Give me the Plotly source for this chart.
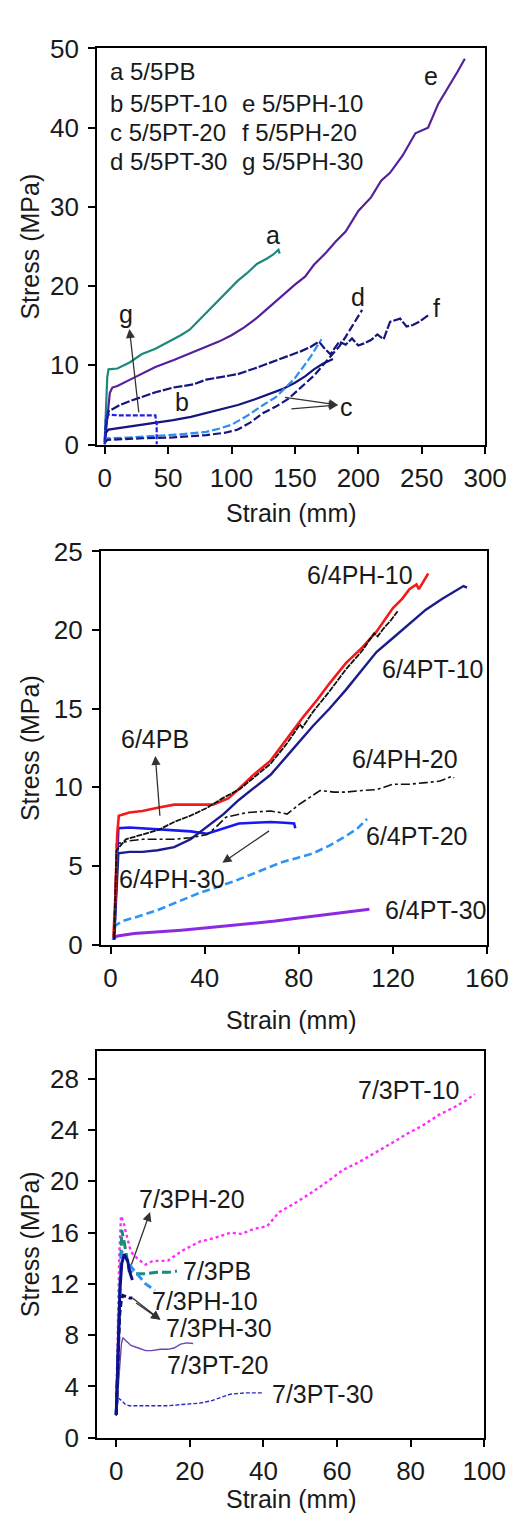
import plotly.graph_objects as go

W, H = 525, 1535
FONT = "Liberation Sans, Arial, sans-serif"
INK = "#1a1a1a"

# ---------------- panel 1 : 5/5 blends ----------------
a_x = [0, 1, 2, 3, 10, 20, 29, 40, 50, 60, 67, 75, 85, 95, 105, 112, 120, 128, 133, 137, 138]
a_y = [0.5, 5, 8.5, 9.5, 9.6, 10.4, 11.4, 12.1, 12.9, 13.8, 14.5, 15.8, 17.5, 19.0, 20.7, 21.6, 22.8, 23.5, 24.0, 24.6, 24.1]

e_x = [0, 2, 4, 6, 10, 20, 30, 40, 55, 67, 80, 90, 100, 110, 120, 132, 140, 150, 158, 165, 175, 182, 190, 200, 210, 218, 225, 235, 245, 255, 263, 270, 278, 284]
e_y = [0, 3, 6.5, 7.2, 7.4, 8.2, 9.0, 9.8, 10.7, 11.5, 12.3, 13.0, 13.8, 14.8, 16.0, 17.7, 18.8, 20.2, 21.2, 22.7, 24.3, 25.6, 26.9, 29.5, 31.2, 33.3, 34.3, 36.5, 39.3, 40.0, 43.0, 44.8, 47.0, 48.7]

b_x = [0, 1, 3, 20, 40, 54, 68, 80, 92, 105, 118, 130, 140, 150, 158, 165, 172, 180]
b_y = [0.3, 1.5, 1.9, 2.3, 2.7, 3.1, 3.5, 4.0, 4.5, 5.0, 5.7, 6.4, 7.0, 7.8, 8.6, 9.5, 10.2, 10.8]

c_x = [0, 2, 20, 40, 60, 80, 90, 100, 112, 125, 135, 142, 150, 157, 162, 167, 171]
c_y = [0.3, 0.8, 0.9, 1.1, 1.3, 1.6, 2.0, 2.5, 3.6, 5.0, 6.0, 7.1, 8.4, 9.9, 11.0, 12.3, 13.3]

d_x = [0, 2, 30, 54, 80, 95, 105, 115, 125, 135, 145, 155, 165, 172, 180, 185, 190, 197, 203]
d_y = [0.2, 0.6, 0.8, 0.9, 1.2, 1.5, 1.9, 2.8, 4.0, 4.8, 5.8, 7.2, 8.7, 10.0, 11.5, 12.4, 13.6, 15.5, 17.0]

f_x = [0, 1, 3, 12, 20, 29, 40, 54, 70, 80, 92, 105, 118, 130, 142, 155, 162, 169, 173, 178, 185, 190, 195, 200, 205, 210, 215, 220, 225, 233, 238, 243, 248, 255]
f_y = [0.5, 2.5, 4.2, 5.0, 5.5, 6.0, 6.6, 7.2, 7.6, 8.2, 8.5, 8.9, 9.6, 10.3, 11.0, 11.8, 12.3, 13.0, 12.2, 11.4, 13.0, 12.6, 13.4, 12.5, 12.8, 13.2, 13.9, 13.3, 15.5, 15.9, 14.9, 15.1, 15.5, 16.3]

g_x = [0, 1, 2, 10, 20, 30, 40, 40.5, 41, 41]
g_y = [0, 3.5, 3.8, 3.7, 3.7, 3.7, 3.7, 2.9, 2.8, 0]

p1_legend = ["a 5/5PB", "b 5/5PT-10", "c 5/5PT-20", "d 5/5PT-30",
             "e 5/5PH-10", "f 5/5PH-20", "g 5/5PH-30"]

# ---------------- panel 2 : 6/4 blends ----------------
ph10_x = [1.2, 2, 2.8, 3.5, 8, 13.5, 20, 27, 35, 43.5, 50, 54.5, 60, 68, 75, 82, 88, 93, 100, 107, 113, 120, 124, 127, 130, 131, 133, 135]
ph10_y = [0.5, 3.0, 7.0, 8.2, 8.4, 8.5, 8.7, 8.9, 8.9, 8.9, 9.3, 9.9, 10.7, 11.7, 13.1, 14.5, 15.6, 16.6, 17.9, 18.9, 19.9, 21.4, 22.0, 22.6, 22.9, 22.6, 23.1, 23.6]

pb64_x = [1.5, 2.5, 6.5, 13, 20.5, 27, 34, 41, 47.5, 55, 61.5, 68, 75, 80.5, 81.5, 86, 93, 100, 107, 112, 113.5, 116, 119, 122]
pb64_y = [0.5, 6.0, 6.7, 7.0, 7.3, 7.8, 8.2, 8.7, 9.3, 9.9, 10.7, 11.5, 12.8, 14.0, 13.8, 14.8, 16.1, 17.5, 18.7, 19.8, 19.6, 20.1, 20.6, 21.2]

pt10_x = [1.5, 2.5, 3.3, 8, 13.5, 20, 27, 34, 41, 48, 54.5, 61, 68, 75, 82, 86, 93, 100, 107, 113, 120, 127, 134, 141, 147, 150, 151.5]
pt10_y = [0.3, 4.0, 5.8, 5.9, 5.9, 6.0, 6.2, 6.7, 7.5, 8.3, 9.2, 10.0, 10.8, 12.0, 13.2, 13.9, 15.0, 16.2, 17.5, 18.6, 19.5, 20.4, 21.3, 22.0, 22.5, 22.8, 22.7]

ph20_x = [1.5, 2.5, 8, 13.5, 20, 27, 34, 41, 45, 49, 58, 68, 72, 75, 80, 89, 95, 100, 107, 113, 120, 127, 134, 140, 145, 146]
ph20_y = [0.4, 6.4, 6.6, 6.7, 6.7, 6.7, 6.8, 7.0, 7.5, 8.1, 8.4, 8.5, 8.4, 8.3, 8.9, 9.8, 9.7, 9.7, 9.8, 9.85, 10.2, 10.2, 10.3, 10.4, 10.7, 10.6]

ph30_x = [1.5, 2.5, 3.3, 8, 13.5, 20, 27, 34, 41, 48, 54.5, 61, 68, 74, 78, 78.5]
ph30_y = [0.3, 5.0, 7.4, 7.45, 7.4, 7.35, 7.3, 7.2, 7.05, 7.4, 7.7, 7.75, 7.8, 7.75, 7.7, 7.4]

pt20_x = [1, 2, 5, 12, 20, 30, 38, 46, 52, 58.7, 65, 72, 79, 86, 93, 100, 105, 109]
pt20_y = [0.3, 1.2, 1.5, 1.8, 2.2, 2.8, 3.3, 3.7, 4.0, 4.4, 4.8, 5.2, 5.5, 5.8, 6.3, 6.9, 7.4, 8.0]

pt30_x = [1, 3, 10, 20, 30, 40, 50, 60, 70, 80, 88, 95, 100, 105, 110]
pt30_y = [0.4, 0.55, 0.7, 0.8, 0.92, 1.05, 1.2, 1.35, 1.5, 1.7, 1.85, 2.0, 2.1, 2.2, 2.25]

# ---------------- panel 3 : 7/3 blends ----------------
pt10_73_x = [0, 0.3, 0.8, 1.3, 2.0, 2.8, 4, 6, 8, 10, 14, 18, 22.7, 27, 31, 34, 37.5, 41, 44.3, 48, 53, 57, 61.7, 66, 70.3, 75, 79, 83, 87.8, 92, 95, 97.4]
pt10_73_y = [2.0, 8.0, 14.0, 17.3, 16.8, 15.8, 14.5, 13.9, 13.5, 13.8, 13.8, 14.6, 15.3, 15.6, 16.0, 15.9, 16.3, 16.5, 17.6, 18.2, 19.1, 19.9, 20.9, 21.5, 22.2, 23.0, 23.7, 24.3, 25.2, 25.8, 26.3, 26.8]

pb73_x = [0, 0.5, 1.0, 1.5, 2.2, 3.0, 3.5, 5, 8, 11, 14, 16.5]
pb73_y = [1.8, 7.0, 13.0, 16.2, 15.2, 13.8, 13.0, 12.8, 12.8, 12.9, 12.9, 13.0]

ph10_73_x = [0, 0.5, 1.0, 1.6, 2.4, 3.2, 4.4, 6, 8, 10.5]
ph10_73_y = [1.8, 6.0, 12.0, 14.6, 14.2, 13.7, 13.2, 12.7, 12.0, 11.5]

ph20_73_x = [0, 0.5, 1.0, 1.5, 2.2, 3.1, 3.8, 4.4]
ph20_73_y = [1.8, 6.0, 11.5, 13.6, 14.3, 13.8, 12.8, 12.3]

ph30_73_x = [0, 0.4, 0.9, 1.4, 1.8, 2.8, 3.6, 4.4]
ph30_73_y = [1.8, 5.0, 9.5, 10.8, 11.1, 11.0, 10.9, 10.9]

pt20_73_x = [0, 0.4, 0.9, 1.4, 1.8, 2.6, 4, 6, 8, 9.6, 12, 14, 15.7, 17.5, 19.2, 20.9]
pt20_73_y = [1.8, 3.5, 6.0, 7.3, 7.8, 7.6, 7.2, 7.0, 6.8, 6.8, 6.9, 6.9, 7.0, 7.3, 7.4, 7.35]

pt30_73_x = [0, 0.3, 0.5, 1.5, 2.5, 3.5, 7, 10, 14, 18, 22.7, 26, 29, 31, 35, 38, 40]
pt30_73_y = [1.7, 2.5, 3.1, 2.9, 2.6, 2.5, 2.5, 2.55, 2.5, 2.6, 2.7, 2.9, 3.2, 3.4, 3.5, 3.5, 3.5]

fig = go.Figure()


def add(x, y, color, width, dash, ax):
    fig.add_trace(go.Scatter(x=x, y=y, mode="lines", xaxis="x" + ax, yaxis="y" + ax,
                             line=dict(color=color, width=width, dash=dash),
                             showlegend=False, hoverinfo="skip"))


TEAL = "#1b8a7d"
NAVY = "#15157e"

add(a_x, a_y, TEAL, 2.2, "solid", "")
add(e_x, e_y, "#55209c", 2.2, "solid", "")
add(b_x, b_y, NAVY, 2.2, "solid", "")
add(f_x, f_y, NAVY, 2.2, "9px,2px", "")
add(c_x, c_y, "#2c8ef0", 2.2, "8px,3px", "")
add(d_x, d_y, NAVY, 2.2, "8px,3px", "")
add(g_x, g_y, "#2020e6", 2.2, "5px,2px", "")

add(pt30_x, pt30_y, "#8a2be2", 3, "solid", "2")
add(pt20_x, pt20_y, "#2f93f5", 2.6, "8px,4px", "2")
add(ph30_x, ph30_y, "#1818f5", 2.6, "solid", "2")
add(pt10_x, pt10_y, "#1c1c8e", 2.4, "solid", "2")
add(ph20_x, ph20_y, "#111111", 1.6, "dashdot", "2")
add(ph10_x, ph10_y, "#f41a1a", 2.6, "solid", "2")
add(pb64_x, pb64_y, "#111111", 1.8, "6px,1px", "2")

add(pt30_73_x, pt30_73_y, "#2a2ac4", 1.4, "4px,2px", "3")
add(pt20_73_x, pt20_73_y, "#6a45b0", 1.4, "solid", "3")
add(pt10_73_x, pt10_73_y, "#ff2cff", 2.4, "dot", "3")
add(pb73_x, pb73_y, TEAL, 3, "9px,4px", "3")
add(ph10_73_x, ph10_73_y, "#2f93f5", 3, "8px,4px", "3")
add(ph30_73_x, ph30_73_y, "#0c0c6e", 3, "6px,3px", "3")
add(ph20_73_x, ph20_73_y, "#10108a", 3, "solid", "3")


# panel boxes in pixels: (left, right, top, bottom)
boxes = {"": (93, 498, 26, 430), "2": (97, 500, 539, 940), "3": (93, 497, 1048, 1443)}
xranges = {"": [-6, 300], "2": [-4.1, 160], "3": [-5.2, 100]}
yranges = {"": [0, 50], "2": [0, 25], "3": [0, 30.2]}
xticks = {"": [0, 50, 100, 150, 200, 250, 300], "2": [0, 40, 80, 120, 160], "3": [0, 20, 40, 60, 80, 100]}
yticks = {"": [0, 10, 20, 30, 40, 50], "2": [0, 5, 10, 15, 20, 25], "3": [0, 4, 8, 12, 16, 20, 24, 28]}

axis_common = dict(showgrid=False, zeroline=False, showline=True, linecolor="black", linewidth=2,
                   mirror=True, ticks="outside", ticklen=7, tickwidth=2, tickcolor="black",
                   tickfont=dict(family=FONT, size=26, color=INK))
lay = {}
for k, (l, r, t, b) in boxes.items():
    lay["xaxis" + k] = dict(axis_common, domain=[l / W, r / W], range=xranges[k], tickvals=xticks[k],
                            anchor="y" + k, ticklabelstandoff=2)
    lay["yaxis" + k] = dict(axis_common, domain=[(H - b) / H, (H - t) / H], range=yranges[k],
                            tickvals=yticks[k], anchor="x" + k, ticklabelstandoff=4)
fig.update_layout(**lay)

ann = []


def label(text, x, y, ax, xanchor="center", size=25):
    ann.append(dict(text=text, x=x, y=y, xref="x" + ax, yref="y" + ax, showarrow=False,
                    xanchor=xanchor, yanchor="middle", font=dict(family=FONT, size=size, color=INK)))


def arrow(x0, y0, x1, y1, ax):
    ann.append(dict(text="", x=x1, y=y1, ax=x0, ay=y0, xref="x" + ax, yref="y" + ax,
                    axref="x" + ax, ayref="y" + ax, showarrow=True, arrowhead=2,
                    arrowsize=1.4, arrowwidth=1.3, arrowcolor="#333333"))


# panel 1 key text
key_pos = [(2.5, 47.1), (2.5, 43.1), (2.5, 39.4), (2.5, 35.7), (107, 43.1), (107, 39.4), (107, 35.7)]
for txt, (x, y) in zip(p1_legend, key_pos):
    label(txt, x, y, "", "left", 24)
label("a", 133, 26.4, "")
label("e", 257, 46.5, "")
label("d", 200, 18.6, "")
label("f", 262, 17.3, "")
label("g", 17, 16.5, "")
label("b", 61, 5.4, "")
label("c", 191, 4.8, "")
arrow(27, 3.9, 19.5, 14.6, "")
arrow(141, 6.0, 184, 5.0, "")
arrow(146, 4.5, 184, 5.0, "")

# panel 2 labels
label("6/4PH-10", 106, 23.5, "2")
label("6/4PT-10", 137, 17.5, "2")
label("6/4PB", 19, 13.1, "2")
label("6/4PH-20", 125, 11.8, "2")
label("6/4PT-20", 130, 6.9, "2")
label("6/4PH-30", 26, 4.2, "2")
label("6/4PT-30", 138, 2.2, "2")
arrow(21, 8.1, 19, 12.0, "2")
arrow(68, 7.3, 47.5, 5.2, "2")

# panel 3 labels
label("7/3PT-10", 79.5, 27.1, "3")
label("7/3PH-20", 20.5, 18.6, "3")
label("7/3PB", 27.4, 13.0, "3")
label("7/3PH-10", 24, 10.7, "3")
label("7/3PH-30", 27.9, 8.6, "3")
label("7/3PT-20", 27.4, 5.7, "3")
label("7/3PT-30", 56, 3.4, "3")
arrow(4, 13.4, 9.2, 17.6, "3")
arrow(4, 11.0, 12, 9.2, "3")
arrow(5, 10.6, 12, 9.2, "3")

# axis titles placed in paper space
for k, (l, r, t, b) in boxes.items():
    ann.append(dict(text="Stress (MPa)", x=23 / W, y=(H - (t + b) / 2) / H, xref="paper", yref="paper",
                    textangle=-90, showarrow=False, xanchor="center", yanchor="middle",
                    font=dict(family=FONT, size=25, color=INK)))
for yc in [500, 1017, 1505]:
    ann.append(dict(text="Strain (mm)", x=296 / W, y=(H - yc) / H, xref="paper", yref="paper",
                    showarrow=False, xanchor="center", yanchor="middle",
                    font=dict(family=FONT, size=25, color=INK)))

fig.update_layout(width=W, height=H, margin=dict(l=0, r=0, t=0, b=0),
                  paper_bgcolor="white", plot_bgcolor="white", annotations=ann,
                  showlegend=False)

fig.write_html("out.html")
